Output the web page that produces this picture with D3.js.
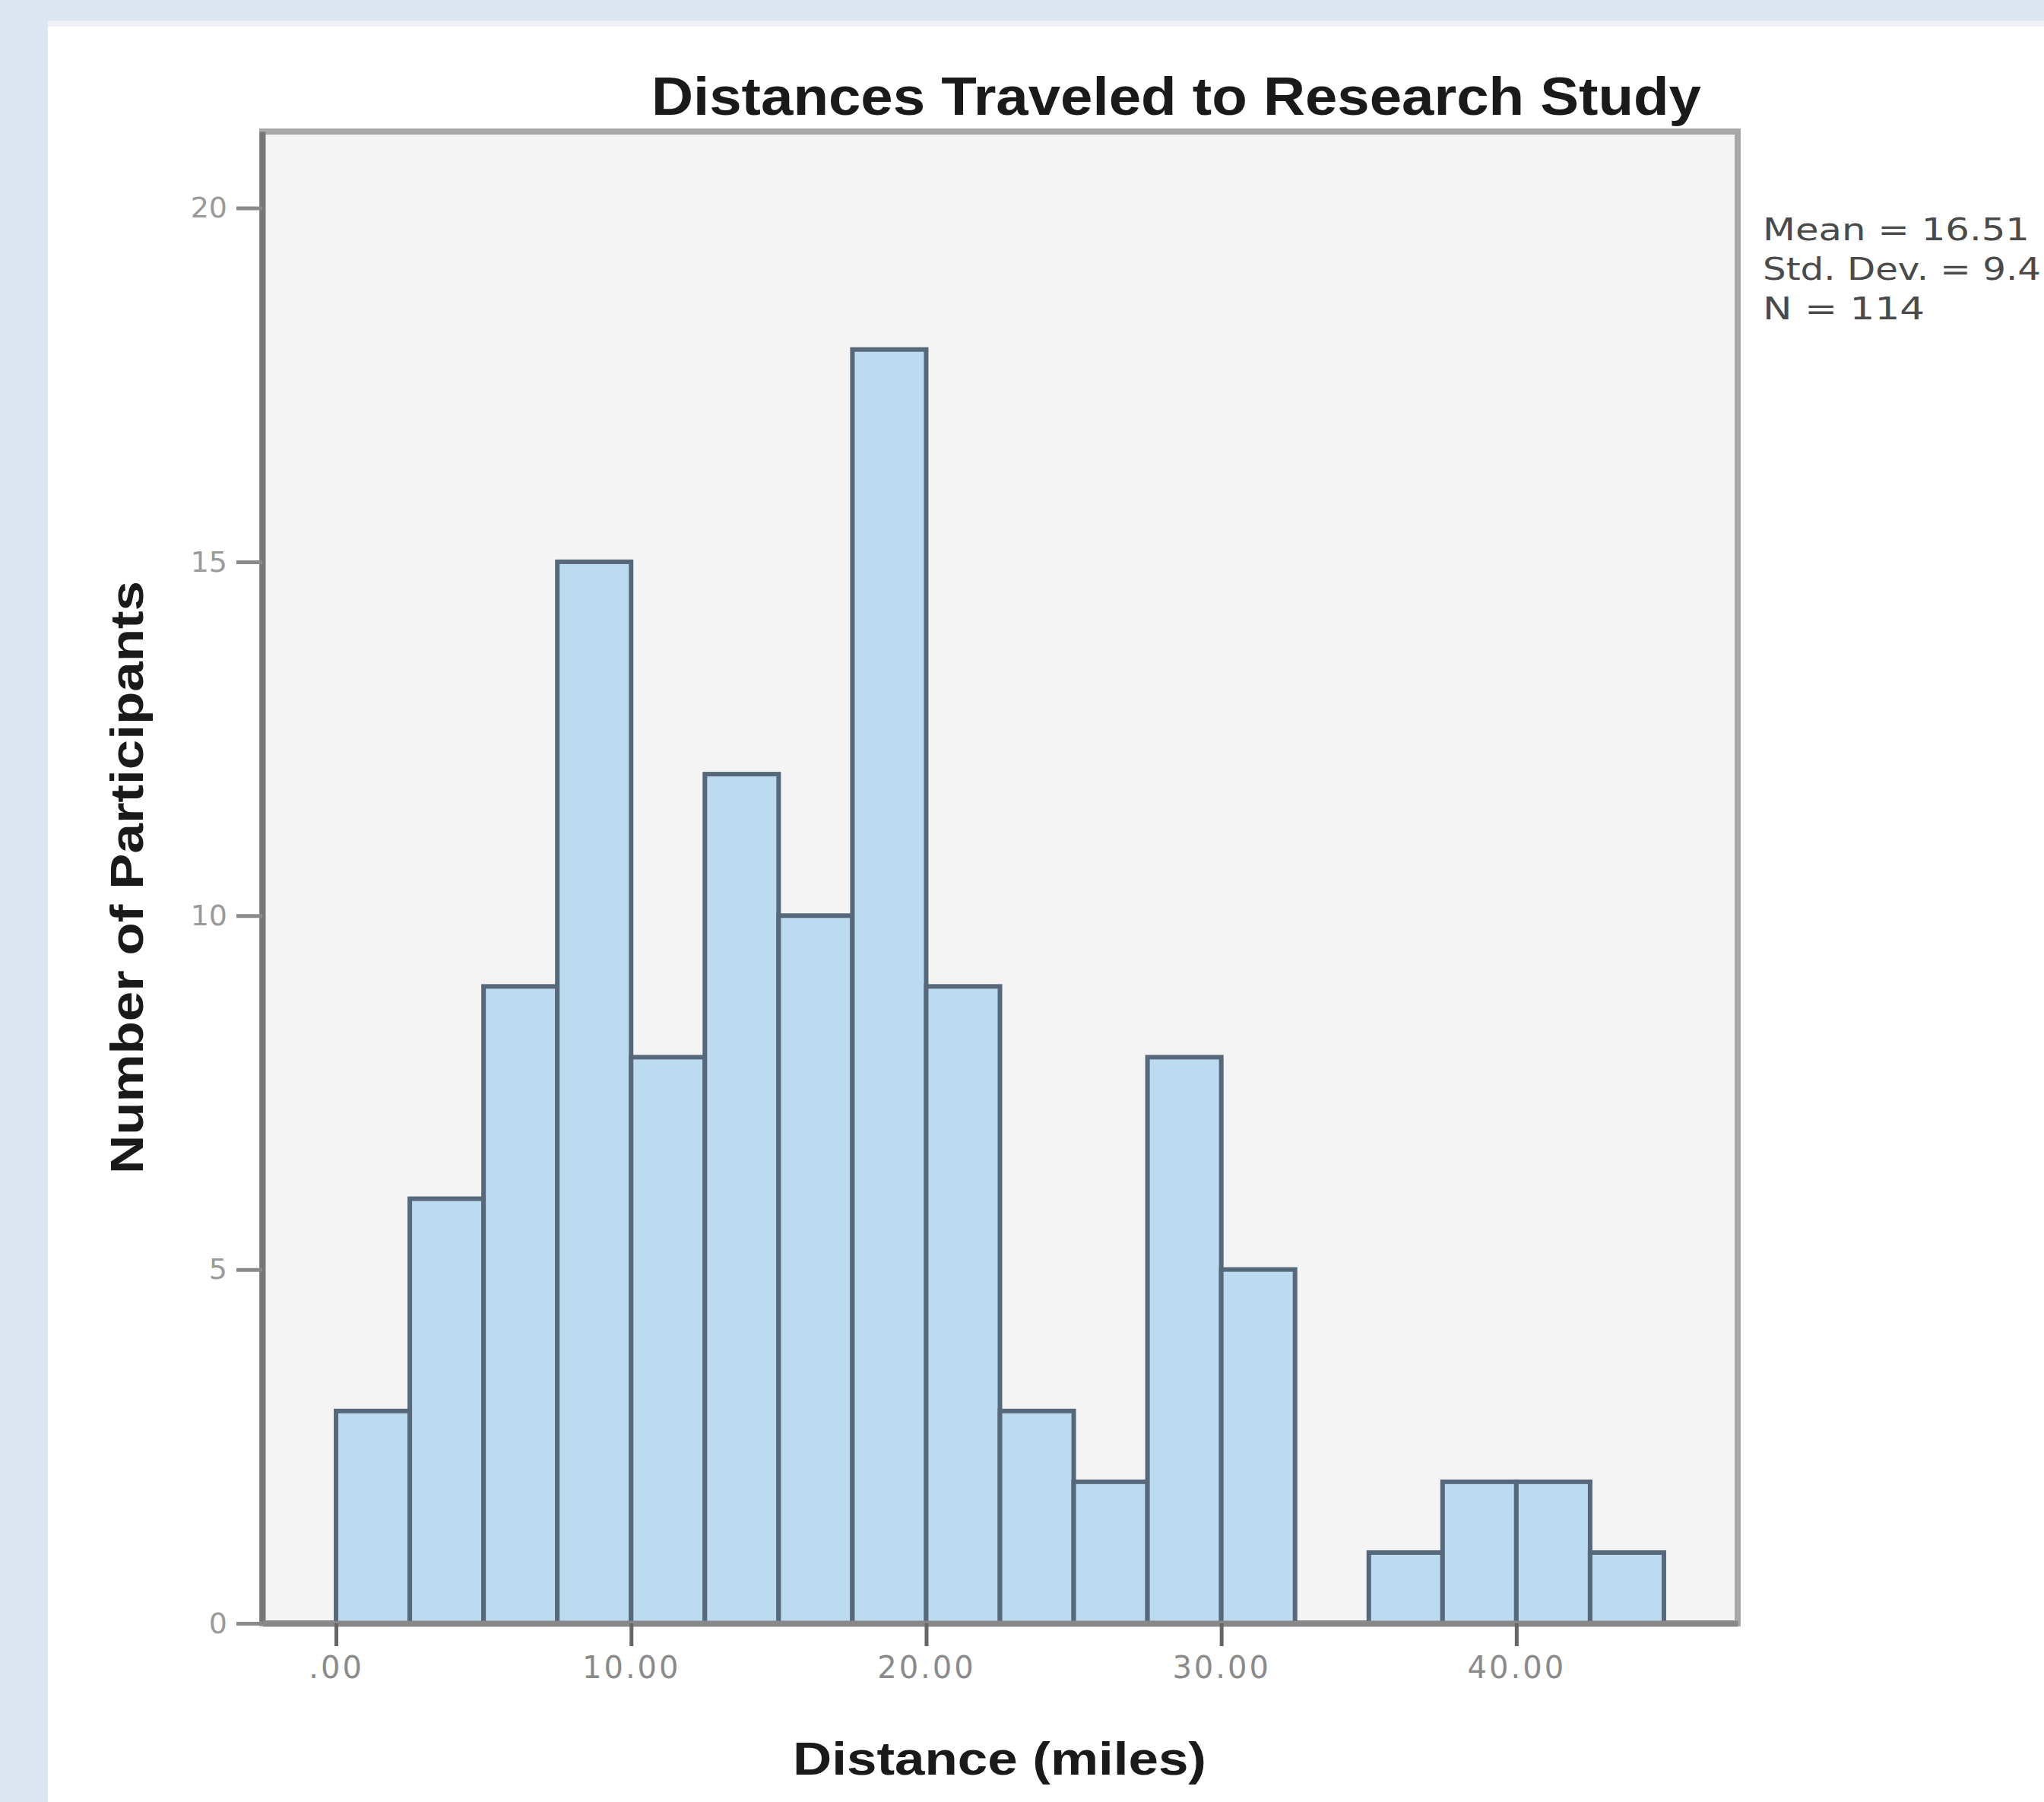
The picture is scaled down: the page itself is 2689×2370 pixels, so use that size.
<!DOCTYPE html>
<html>
<head>
<meta charset="utf-8">
<script src="https://cdn.jsdelivr.net/npm/d3@7"></script>
<style>
  html, body { margin: 0; padding: 0; background: #ffffff; }
  svg { display: block; }
</style>
</head>
<body>
<script>
// histogram bins (miles), 2.5 mile wide
var binStarts = [0, 2.5, 5, 7.5, 10, 12.5, 15, 17.5, 20, 22.5, 25, 27.5, 30, 32.5, 35, 37.5, 40, 42.5];
var counts    = [3, 6, 9, 15, 8, 12, 10, 18, 9, 3, 2, 8, 5, 0, 1, 2, 2, 1];
var binWidth = 2.5;

var xTicks = [0, 10, 20, 30, 40];
var xTickLabels = [".00", "10.00", "20.00", "30.00", "40.00"];
var yTicks = [0, 5, 10, 15, 20];

var statLines = ["Mean = 16.51", "Std. Dev. = 9.4", "N = 114"];

var W = 2689, H = 2370;
var frame = {left: 345, right: 2286, top: 173, bottom: 2135};

var svg = d3.select("body").append("svg")
    .attr("width", W)
    .attr("height", H);

// page background like the screenshot
svg.append("rect").attr("width", W).attr("height", H).attr("fill", "#ffffff");
svg.append("rect").attr("x", 0).attr("y", 0).attr("width", W).attr("height", 27).attr("fill", "#dce6f1");
svg.append("rect").attr("x", 63).attr("y", 27).attr("width", W - 63).attr("height", 8).attr("fill", "#eef2f7");
svg.append("rect").attr("x", 0).attr("y", 0).attr("width", 63).attr("height", H).attr("fill", "#dce6f1");

var x = d3.scaleLinear().domain([-2.5, 47.5]).range([frame.left, frame.right]);
var y = d3.scaleLinear().domain([0, 21.08]).range([frame.bottom, frame.top]);

// plot area
svg.append("rect")
    .attr("x", frame.left).attr("y", frame.top)
    .attr("width", frame.right - frame.left)
    .attr("height", frame.bottom - frame.top)
    .attr("fill", "#f4f4f4")
    .attr("stroke", "#a8a8a8")
    .attr("stroke-width", 8);

var bins = binStarts.map(function(s, i) { return {x0: s, x1: s + binWidth, n: counts[i]}; })
    .filter(function(d) { return d.n > 0; });

svg.append("g").selectAll("rect")
    .data(bins)
    .enter()
        .append("rect")
        .attr("x", function(d) { return x(d.x0); })
        .attr("y", function(d) { return y(d.n); })
        .attr("width", function(d) { return x(d.x1) - x(d.x0); })
        .attr("height", function(d) { return y(0) - y(d.n); })
        .attr("fill", "#bcdaf0")
        .attr("stroke", "#56687a")
        .attr("stroke-width", 6);

// axes
var yAxis = d3.axisLeft(y).tickValues(yTicks).tickSize(34).tickSizeOuter(0).tickPadding(12)
    .tickFormat(d3.format("d"));
var gy = svg.append("g").attr("transform", "translate(" + frame.left + ",0)").call(yAxis);
gy.select(".domain").attr("stroke", "#777").attr("stroke-width", 8);
gy.selectAll(".tick line").attr("stroke", "#8a8a8a").attr("stroke-width", 5);
gy.selectAll(".tick text")
    .attr("font-family", "DejaVu Sans, sans-serif")
    .attr("font-size", 38)
    .attr("fill", "#9a9a9a");

var xAxis = d3.axisBottom(x).tickValues(xTicks).tickSize(30).tickSizeOuter(0).tickPadding(14)
    .tickFormat(function(d, i) { return xTickLabels[i]; });
var gx = svg.append("g").attr("transform", "translate(0," + frame.bottom + ")").call(xAxis);
gx.select(".domain").attr("stroke", "#888").attr("stroke-width", 8);
gx.selectAll(".tick line").attr("stroke", "#666").attr("stroke-width", 5);
gx.selectAll(".tick text")
    .attr("font-family", "DejaVu Sans, sans-serif")
    .attr("font-size", 40)
    .attr("letter-spacing", 3)
    .attr("fill", "#8a8a8a");

// titles
svg.append("text")
    .attr("x", 857).attr("y", 151)
    .attr("textLength", 1381).attr("lengthAdjust", "spacingAndGlyphs")
    .attr("font-family", "Liberation Sans, Arial, sans-serif")
    .attr("font-weight", "bold")
    .attr("font-size", 70)
    .attr("fill", "#1a1a1a")
    .text("Distances Traveled to Research Study");

svg.append("text")
    .attr("x", 1043).attr("y", 2334)
    .attr("textLength", 544).attr("lengthAdjust", "spacingAndGlyphs")
    .attr("font-family", "Liberation Sans, Arial, sans-serif")
    .attr("font-weight", "bold")
    .attr("font-size", 62)
    .attr("fill", "#1a1a1a")
    .text("Distance (miles)");

svg.append("text")
    .attr("transform", "translate(188," + ((frame.top + frame.bottom) / 2) + ") rotate(-90)")
    .attr("text-anchor", "middle")
    .attr("textLength", 780).attr("lengthAdjust", "spacingAndGlyphs")
    .attr("font-family", "Liberation Sans, Arial, sans-serif")
    .attr("font-weight", "bold")
    .attr("font-size", 62)
    .attr("fill", "#1a1a1a")
    .text("Number of Participants");

// summary stats
var statW = [351, 366, 213];
svg.append("g").selectAll("text")
    .data(statLines)
    .enter()
        .append("text")
        .attr("x", 2319)
        .attr("y", function(d, i) { return 316 + i * 52; })
        .attr("textLength", function(d, i) { return statW[i]; })
        .attr("lengthAdjust", "spacingAndGlyphs")
        .attr("font-family", "DejaVu Sans, sans-serif")
        .attr("font-size", 40)
        .attr("fill", "#4a4a4a")
        .text(function(d) { return d; });
</script>
</body>
</html>
